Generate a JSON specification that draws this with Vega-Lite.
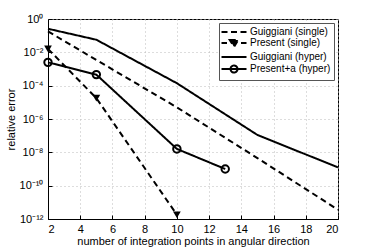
{
  "$schema": "https://vega.github.io/schema/vega-lite/v6.json",
  "width": 290,
  "height": 200,
  "autosize": "none",
  "padding": {"left": 48, "top": 19, "right": 36, "bottom": 30},
  "config": {
    "font": "Liberation Sans",
    "view": {"stroke": "black", "strokeWidth": 1},
    "axis": {
      "labelFont": "Liberation Sans",
      "titleFont": "Liberation Sans",
      "labelFontSize": 11,
      "titleFontSize": 11,
      "titleFontWeight": "normal",
      "labelColor": "black",
      "titleColor": "black",
      "domainColor": "black",
      "tickColor": "black",
      "tickSize": -4,
      "gridColor": "#bbbbbb",
      "gridDash": [1, 3],
      "gridWidth": 1
    }
  },
  "data": {
    "values": [
      {"series": "Guiggiani (single)", "n": 2, "err": 0.18},
      {"series": "Guiggiani (single)", "n": 5, "err": 0.0035},
      {"series": "Guiggiani (single)", "n": 10, "err": 5e-6},
      {"series": "Guiggiani (single)", "n": 15, "err": 4.5e-9},
      {"series": "Guiggiani (single)", "n": 20, "err": 3.6e-12},
      {"series": "Present (single)", "n": 2, "err": 0.016},
      {"series": "Present (single)", "n": 5, "err": 1.8e-5},
      {"series": "Present (single)", "n": 10, "err": 1.8e-12},
      {"series": "Guiggiani (hyper)", "n": 2, "err": 0.26},
      {"series": "Guiggiani (hyper)", "n": 5, "err": 0.057},
      {"series": "Guiggiani (hyper)", "n": 10, "err": 1.4e-4},
      {"series": "Guiggiani (hyper)", "n": 15, "err": 1.1e-7},
      {"series": "Guiggiani (hyper)", "n": 20, "err": 1.25e-9},
      {"series": "Present+a (hyper)", "n": 2, "err": 0.0025},
      {"series": "Present+a (hyper)", "n": 5, "err": 0.00046},
      {"series": "Present+a (hyper)", "n": 10, "err": 1.6e-8},
      {"series": "Present+a (hyper)", "n": 13, "err": 1e-9}
    ]
  },
  "encoding": {
    "x": {
      "field": "n", "type": "quantitative",
      "scale": {"domain": [2, 20], "nice": false, "zero": false},
      "axis": {"values": [2, 4, 6, 8, 10, 12, 14, 16, 18, 20], "title": "number of integration points in angular direction", "grid": true, "labelPadding": 8, "titlePadding": 1}
    },
    "y": {
      "field": "err", "type": "quantitative",
      "scale": {"type": "log", "domain": [1e-12, 1], "nice": false},
      "axis": {
        "values": [1, 0.01, 0.0001, 1e-6, 1e-8, 1e-10, 1e-12],
        "title": "relative error",
        "grid": true,
        "labelPadding": 9,
        "titlePadding": 3,
        "labelExpr": "'10' + (round(log(datum.value)/LN10) == 0 ? '⁰' : round(log(datum.value)/LN10) == -2 ? '⁻²' : round(log(datum.value)/LN10) == -4 ? '⁻⁴' : round(log(datum.value)/LN10) == -6 ? '⁻⁶' : round(log(datum.value)/LN10) == -8 ? '⁻⁸' : round(log(datum.value)/LN10) == -10 ? '⁻¹⁰' : '⁻¹²')"
      }
    }
  },
  "layer": [
    {
      "mark": {"type": "line", "color": "black", "strokeWidth": 2},
      "encoding": {
        "strokeDash": {
          "field": "series", "type": "nominal",
          "scale": {
            "domain": ["Guiggiani (single)", "Present (single)", "Guiggiani (hyper)", "Present+a (hyper)"],
            "range": [[6, 4], [6, 4], [1, 0], [1, 0]]
          },
          "legend": {
            "title": null,
            "orient": "top-right",
            "offset": 4,
            "padding": 3,
            "fillColor": "white",
            "strokeColor": "#555555",
            "labelFont": "Liberation Sans",
            "labelFontSize": 10,
            "labelColor": "black",
            "symbolSize": 100,
            "symbolStrokeWidth": 2,
            "symbolStrokeColor": "black",
            "symbolOffset": 6,
            "labelOffset": 10,
            "rowPadding": -1,
            "encode": {
              "symbols": {
                "update": {
                  "shape": {"signal": "datum.value == 'Guiggiani (single)' ? 'M-2.5,0H-1.3M-0.6,0H0.6M1.3,0H2.5' : datum.value == 'Present (single)' ? 'M-2.5,0H-1.4M1.4,0H2.5M-0.85,-0.6H0.85L0,0.75Z' : datum.value == 'Guiggiani (hyper)' ? 'M-2.5,0H2.5' : 'M-2.5,0H2.5M-0.7,0A0.7,0.7 0 1,0 0.7,0A0.7,0.7 0 1,0 -0.7,0'"},
                  "fill": {"signal": "datum.value == 'Present (single)' ? 'black' : 'transparent'"},
                  "stroke": {"value": "black"},
                  "strokeDash": {"value": []},
                  "strokeWidth": {"value": 2}
                }
              }
            }
          }
        }
      }
    },
    {
      "transform": [{"filter": "datum.series == 'Present (single)'"}],
      "mark": {"type": "point", "shape": "triangle-down", "filled": true, "color": "black", "size": 60, "opacity": 1}
    },
    {
      "transform": [{"filter": "datum.series == 'Present+a (hyper)'"}],
      "mark": {"type": "point", "shape": "circle", "filled": false, "color": "black", "size": 55, "strokeWidth": 2, "opacity": 1}
    }
  ]
}
